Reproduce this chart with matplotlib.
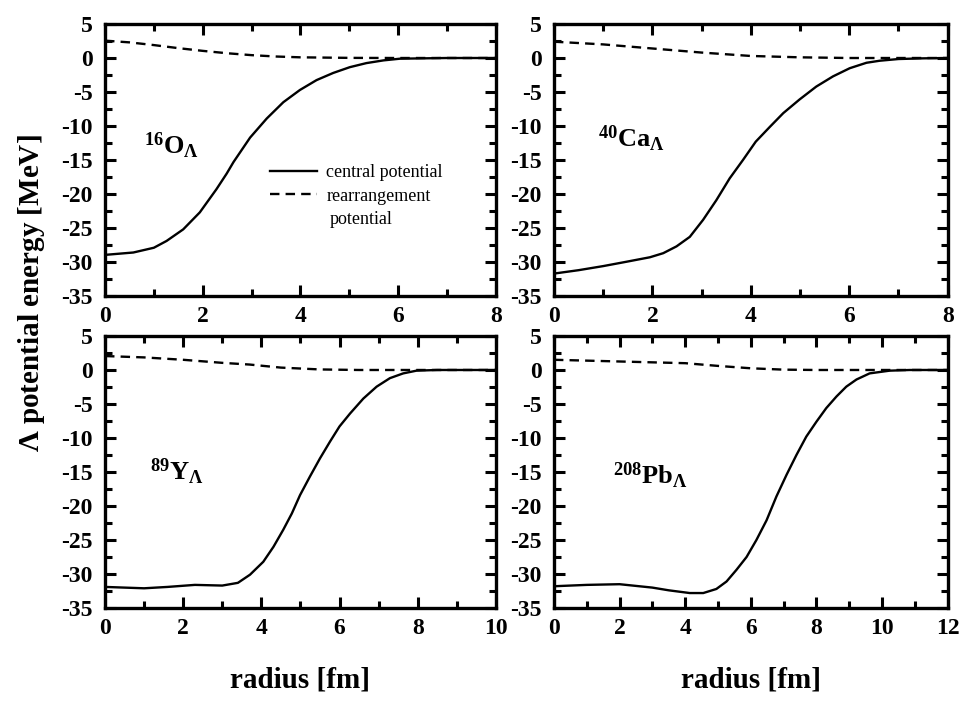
import matplotlib
matplotlib.use("Agg")
import matplotlib.pyplot as plt
from matplotlib.ticker import MultipleLocator

plt.rcParams["font.family"] = ["Liberation Serif", "DejaVu Serif"]
plt.rcParams["font.weight"] = "bold"
plt.rcParams["axes.unicode_minus"] = False
plt.rcParams["mathtext.fontset"] = "custom"
plt.rcParams["mathtext.rm"] = "Liberation Serif"
plt.rcParams["mathtext.it"] = "Liberation Serif:italic"
plt.rcParams["mathtext.bf"] = "Liberation Serif:bold"

# 16O_Lambda
o_r = [0, 0.58, 1.0, 1.26, 1.6, 1.94, 2.28, 2.49, 2.63, 2.97, 3.31, 3.65, 3.99,
       4.33, 4.67, 5.01, 5.35, 5.7, 6.04, 7, 8]
o_central = [-28.95, -28.6, -27.9, -26.9, -25.2, -22.7, -19.3, -17.0, -15.3, -11.7,
             -8.9, -6.5, -4.7, -3.25, -2.2, -1.35, -0.75, -0.35, -0.1, 0.0, 0.0]
o_rearr_r = [0, 0.5, 1, 1.5, 2, 2.5, 3, 3.5, 4, 5, 6, 8]
o_rearr = [2.55, 2.3, 1.9, 1.45, 1.05, 0.7, 0.42, 0.22, 0.1, 0.02, 0.0, 0.0]

# 40Ca_Lambda
ca_r = [0, 0.5, 1.0, 1.48, 1.95, 2.22, 2.49, 2.76, 3.03, 3.3, 3.57, 3.84, 4.1,
        4.39, 4.66, 4.99, 5.33, 5.67, 6.01, 6.35, 6.62, 7, 7.5, 8]
ca_central = [-31.7, -31.2, -30.6, -29.95, -29.3, -28.7, -27.7, -26.3, -23.8, -20.9,
              -17.7, -15.0, -12.3, -10.1, -8.1, -6.1, -4.2, -2.7, -1.5, -0.7,
              -0.4, -0.15, -0.05, 0.0]
ca_rearr_r = [0, 1, 2, 3, 4, 5, 6, 8]
ca_rearr = [2.4, 2.0, 1.4, 0.8, 0.3, 0.1, 0.0, 0.0]

# 89Y_Lambda
y_r = [0, 1, 1.6, 2.3, 3.0, 3.4, 3.71, 4.05, 4.31, 4.56, 4.78, 4.99, 5.24, 5.5,
       5.76, 6.0, 6.27, 6.61, 6.95, 7.29, 7.63, 7.97, 8.5, 9, 10]
y_central = [-31.9, -32.1, -31.9, -31.6, -31.7, -31.3, -30.1, -28.2, -26.0, -23.5,
             -21.1, -18.4, -15.7, -13.0, -10.5, -8.3, -6.4, -4.2, -2.45, -1.2,
             -0.5, -0.1, 0.0, 0.0, 0.0]
y_rearr_r = [0, 1, 2, 3, 3.7, 4.5, 5.5, 6.5, 10]
y_rearr = [2.05, 1.85, 1.5, 1.05, 0.8, 0.35, 0.08, 0.0, 0.0]

# 208Pb_Lambda
pb_r = [0, 1, 2, 3, 3.5, 4.14, 4.55, 4.95, 5.26, 5.56, 5.87, 6.17, 6.48, 6.78,
        7.09, 7.39, 7.69, 8.0, 8.3, 8.61, 8.91, 9.22, 9.62, 10.23, 10.84, 12]
pb_central = [-31.8, -31.6, -31.5, -32.0, -32.4, -32.8, -32.8, -32.2, -31.1, -29.4,
              -27.5, -25.0, -22.1, -18.6, -15.4, -12.5, -9.8, -7.6, -5.6, -3.9,
              -2.45, -1.4, -0.5, -0.1, 0.0, 0.0]
pb_rearr_r = [0, 2, 4, 5, 6, 7, 8, 12]
pb_rearr = [1.5, 1.25, 1.0, 0.6, 0.25, 0.05, 0.0, 0.0]

PANELS = [
    (o_r, o_central, o_rearr_r, o_rearr, 8, r"$^{\mathbf{16}}$O$_{\Lambda}$", 0.8, -14.1),
    (ca_r, ca_central, ca_rearr_r, ca_rearr, 8, r"$^{\mathbf{40}}$Ca$_{\Lambda}$", 0.9, -13.2),
    (y_r, y_central, y_rearr_r, y_rearr, 10, r"$^{\mathbf{89}}$Y$_{\Lambda}$", 1.15, -16.2),
    (pb_r, pb_central, pb_rearr_r, pb_rearr, 12, r"$^{\mathbf{208}}$Pb$_{\Lambda}$", 1.8, -16.8),
]

AX_RECTS = [
    [0.1075, 0.5807, 0.400, 0.3853],
    [0.567, 0.5807, 0.403, 0.3853],
    [0.1075, 0.1388, 0.400, 0.3853],
    [0.567, 0.1388, 0.403, 0.3853],
]


def StyleAxis(ax, xmax):
    ax.set_xlim(0, xmax)
    ax.set_ylim(-35, 5)
    ax.xaxis.set_major_locator(MultipleLocator(2))
    ax.xaxis.set_minor_locator(MultipleLocator(1))
    ax.yaxis.set_major_locator(MultipleLocator(5))
    ax.yaxis.set_minor_locator(MultipleLocator(2.5))
    ax.tick_params(which="both", direction="in", top=True, right=True, width=2.2)
    ax.tick_params(which="major", length=8, labelsize=17, pad=7)
    ax.tick_params(which="minor", length=5)
    ax.tick_params(axis="y", which="major", pad=9)
    for spine in ax.spines.values():
        spine.set_linewidth(2.4)
    for lab in ax.get_xticklabels() + ax.get_yticklabels():
        lab.set_fontweight("bold")


fig = plt.figure(figsize=(9.77, 7.06), dpi=100)
axes = []
for rect, (r, cen, rr, rea, xmax, name, lx, ly) in zip(AX_RECTS, PANELS):
    ax = fig.add_axes(rect)
    ax.plot(r, cen, color="black", lw=1.7, label="central potential")
    ax.plot(rr, rea, color="black", lw=1.7, dashes=(4, 2.6), label="rearrangement")
    StyleAxis(ax, xmax)
    ax.text(lx, ly, name, fontsize=19, fontweight="bold", ha="left", va="baseline")
    axes.append(ax)

leg = axes[0].legend(loc="upper left", bbox_to_anchor=(0.40, 0.517), frameon=False,
                     prop={"family": "Liberation Serif", "weight": "normal", "size": 13},
                     handlelength=2.6, handletextpad=0.5, labelspacing=0.35, borderpad=0)
axes[0].text(0.575, 0.266, "potential", transform=axes[0].transAxes, fontsize=13,
             fontweight="normal", ha="left", va="baseline")

for ax in axes[2:]:
    ax.set_xlabel("radius [fm]", fontsize=21, fontweight="bold", labelpad=20)

fig.text(0.032, 0.585, r"$\Lambda$ potential energy [MeV]", rotation=90, fontsize=21,
         fontweight="bold", ha="center", va="center")

fig.savefig("out.png", dpi=100)
